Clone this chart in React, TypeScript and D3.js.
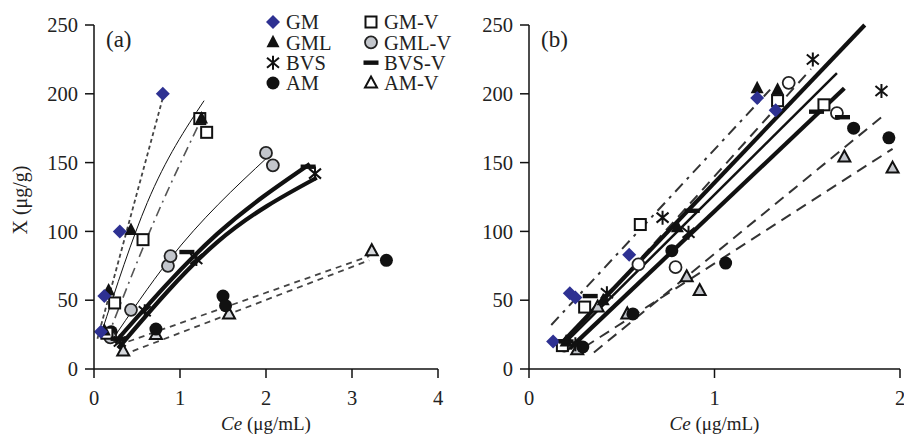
import React from "react";
import * as d3 from "d3";

const yTicks = [0, 50, 100, 150, 200, 250];
const xTicksA = [0, 1, 2, 3, 4];
const xTicksB = [0, 1, 2];

// panel (a) points, [Ce, X]
const aGM = [[0.08, 27], [0.12, 53], [0.30, 100], [0.80, 200]];
const aGML = [[0.12, 28], [0.17, 57], [0.43, 101], [1.25, 182]];
const aGMV = [[0.15, 26], [0.24, 48], [0.57, 94], [1.23, 182], [1.31, 172]];
const aGMLV = [[0.19, 23], [0.43, 43], [0.86, 75], [0.89, 82], [2.0, 157], [2.08, 148]];
const aBVS = [[0.30, 20], [0.59, 42], [1.19, 80], [2.57, 142]];
const aBVSV = [[0.28, 22], [1.08, 85], [2.49, 147]];
const aAM = [[0.20, 27], [0.72, 29], [1.50, 53], [1.53, 46], [3.40, 79]];
const aAMV = [[0.34, 13], [0.72, 25], [1.57, 40], [3.23, 86]];

// panel (a) fitted lines
const aFitGM = [[0.04, 22], [0.80, 197]];
const aFitGML = [[0.08, 25], [0.62, 121], [1.28, 195]];
const aFitGMV = [[0.15, 22], [0.69, 106], [1.22, 178]];
const aFitGMLV = [[0.20, 20], [0.87, 79], [2.02, 154]];
const aFitBVS = [[0.28, 15], [1.43, 92], [2.59, 139]];
const aFitBVSV = [[0.24, 19], [1.43, 98], [2.51, 149]];
const aFitAM = [[0.40, 20], [3.20, 82]];
const aFitAMV = [[0.45, 13], [3.20, 79]];

// panel (b) points
const bGM = [[0.13, 20], [0.22, 55], [0.25, 52], [0.54, 83], [1.23, 197], [1.33, 188]];
const bGML = [[0.20, 20], [0.40, 50], [0.80, 103], [1.23, 204], [1.34, 203]];
const bGMV = [[0.18, 17], [0.30, 45], [0.60, 105], [1.34, 195], [1.59, 192]];
const bGMLV = [[0.19, 17], [0.59, 76], [0.79, 74], [1.40, 208], [1.66, 186]];
const bBVS = [[0.25, 18], [0.42, 55], [0.72, 110], [0.86, 99], [1.53, 225], [1.90, 202]];
const bBVSV = [[0.20, 20], [0.33, 53], [0.88, 115], [1.55, 187], [1.69, 183]];
const bAM = [[0.29, 16], [0.56, 40], [0.77, 86], [1.06, 77], [1.75, 175], [1.94, 168]];
const bAMV = [[0.26, 14], [0.37, 45], [0.53, 40], [0.85, 67], [0.92, 57], [1.70, 154], [1.96, 146]];

// panel (b) fitted lines
const bFit1 = [[0.12, 32], [1.30, 203]];
const bFit2 = [[0.22, 23], [1.52, 218]];
const bFit3 = [[0.35, 12], [1.90, 183]];
const bFit4 = [[0.30, 16], [1.96, 160]];
const bFit5 = [[0.17, 18], [1.81, 250]];
const bFit6 = [[0.18, 17], [1.66, 215]];
const bFit7 = [[0.22, 15], [1.70, 204]];

const legendNames = ["GM", "GML", "BVS", "AM", "GM-V", "GML-V", "BVS-V", "AM-V"];
const legendKinds = ["diamond", "triFill", "star", "dot", "square", "circle", "bar", "triOpen"];

const font = "'Liberation Serif', 'Times New Roman', serif";
const BLUE = "#2e3192";
const GREY = "#c3c6cc";

const lineStyles = {
  dotted: { stroke: "#444", width: 1.8, dash: "4,3" },
  thin: { stroke: "#111", width: 1, dash: null },
  dashdot: { stroke: "#555", width: 1.6, dash: "10,5,2,5" },
  thick: { stroke: "#111", width: 4.2, dash: null },
  medium: { stroke: "#111", width: 2.5, dash: null },
  dashed: { stroke: "#444", width: 1.8, dash: "6,5" },
  longdash: { stroke: "#333", width: 2, dash: "11,7" },
  longdashdot: { stroke: "#333", width: 2, dash: "11,6,3,6" },
};

function Mark({ kind, x, y, fill }: any) {
  const t = `translate(${x},${y})`;
  switch (kind) {
    case "diamond":
      return <path transform={t} d="M0,-7L7,0L0,7L-7,0Z" fill={BLUE} />;
    case "triFill":
      return <path transform={t} d="M0,-7.5L6.5,5L-6.5,5Z" fill="#111" />;
    case "triOpen":
      return <path transform={t} d="M0,-6.5L6,4.5L-6,4.5Z" fill={fill || GREY} stroke="#111" strokeWidth={2} />;
    case "square":
      return <rect transform={t} x={-5.5} y={-5.5} width={11} height={11} fill="#fff" stroke="#111" strokeWidth={2} />;
    case "circle":
      return <circle cx={x} cy={y} r={6} fill={fill || GREY} stroke="#222" strokeWidth={1.8} />;
    case "dot":
      return <circle cx={x} cy={y} r={6.5} fill="#111" />;
    case "bar":
      return <rect transform={t} x={-7.5} y={-2.2} width={15} height={4.4} fill="#111" />;
    case "star":
      return <path transform={t} d="M0,-7L0,7M-6,-5L6,5M-6,5L6,-5" stroke="#111" strokeWidth={2} fill="none" />;
    default:
      return null;
  }
}

function Panel({ xScale, xTicks, label, series, fits, yTitle }: any) {
  const y = d3.scaleLinear().domain([0, 250]).range([369, 25]);
  const x0 = xScale(0);
  const line = d3
    .line<number[]>()
    .x((d) => xScale(d[0]))
    .y((d) => y(d[1]))
    .curve(d3.curveMonotoneX);
  const [r0, r1] = xScale.range();
  return (
    <g fontFamily={font} fill="#222">
      {fits.map((f: any, i: number) => {
        const s = lineStyles[f.style];
        return (
          <path key={i} d={line(f.pts) || ""} fill="none" stroke={s.stroke} strokeWidth={s.width}
            strokeDasharray={s.dash || undefined} />
        );
      })}
      {series.map((s: any, i: number) =>
        s.pts.map((p: number[], j: number) => (
          <Mark key={i + "-" + j} kind={s.kind} x={xScale(p[0])} y={y(p[1])} fill={s.fill} />
        ))
      )}
      <line x1={x0} x2={x0} y1={y(250)} y2={y(0)} stroke="#111" strokeWidth={1.5} />
      <line x1={r0} x2={r1} y1={y(0)} y2={y(0)} stroke="#111" strokeWidth={1.5} />
      {yTicks.map((t) => (
        <g key={"y" + t}>
          <line x1={x0 - 9} x2={x0} y1={y(t)} y2={y(t)} stroke="#111" strokeWidth={1.5} />
          <text x={x0 - 16} y={y(t)} dy="0.35em" textAnchor="end" fontSize={20.5}>{t}</text>
        </g>
      ))}
      {xTicks.map((t: number) => (
        <g key={"x" + t}>
          <line x1={xScale(t)} x2={xScale(t)} y1={y(0)} y2={y(0) + 9} stroke="#111" strokeWidth={1.5} />
          <text x={xScale(t)} y={405} textAnchor="middle" fontSize={20.5}>{t}</text>
        </g>
      ))}
      <text x={x0 + 12} y={47} fontSize={23}>{label}</text>
      <text x={(r0 + r1) / 2} y={430} textAnchor="middle" fontSize={19}>
        <tspan fontStyle="italic">Ce</tspan> (μg/mL)
      </text>
      {yTitle && (
        <text transform="translate(27,200) rotate(-90)" textAnchor="middle" fontSize={20}>X (μg/g)</text>
      )}
    </g>
  );
}

export default function App() {
  const xA = d3.scaleLinear().domain([0, 4]).range([94, 438]);
  const xB = d3.scaleLinear().domain([0, 2]).range([529, 900]);

  const seriesA = [
    { pts: aAMV, kind: "triOpen", fill: "#d6d8dc" },
    { pts: aAM, kind: "dot" },
    { pts: aGMLV, kind: "circle" },
    { pts: aGMV, kind: "square" },
    { pts: aGML, kind: "triFill" },
    { pts: aGM, kind: "diamond" },
    { pts: aBVSV, kind: "bar" },
    { pts: aBVS, kind: "star" },
  ];
  const fitsA = [
    { pts: aFitAM, style: "dashed" },
    { pts: aFitAMV, style: "dashed" },
    { pts: aFitGM, style: "dotted" },
    { pts: aFitGMV, style: "dashdot" },
    { pts: aFitGML, style: "thin" },
    { pts: aFitGMLV, style: "thin" },
    { pts: aFitBVS, style: "thick" },
    { pts: aFitBVSV, style: "thick" },
  ];
  const seriesB = [
    { pts: bAMV, kind: "triOpen" },
    { pts: bAM, kind: "dot" },
    { pts: bGMLV, kind: "circle", fill: "#fff" },
    { pts: bGMV, kind: "square" },
    { pts: bGML, kind: "triFill" },
    { pts: bGM, kind: "diamond" },
    { pts: bBVSV, kind: "bar" },
    { pts: bBVS, kind: "star" },
  ];
  const fitsB = [
    { pts: bFit1, style: "longdashdot" },
    { pts: bFit2, style: "longdash" },
    { pts: bFit3, style: "longdash" },
    { pts: bFit4, style: "longdash" },
    { pts: bFit5, style: "thick" },
    { pts: bFit6, style: "medium" },
    { pts: bFit7, style: "thick" },
  ];

  const rowY = d3.scaleLinear().domain([0, 3]).range([22, 83]);

  return (
    <svg width={904} height={438} style={{ position: "absolute", left: 0, top: 0, background: "#fff" }}>
      <Panel xScale={xA} xTicks={xTicksA} label="(a)" series={seriesA} fits={fitsA} yTitle />
      <Panel xScale={xB} xTicks={xTicksB} label="(b)" series={seriesB} fits={fitsB} />
      <g fontFamily={font} fill="#222" fontSize={20.5}>
        {legendNames.map((name, i) => {
          const col = Math.floor(i / 4);
          const row = i % 4;
          const mx = col === 0 ? 273 : 371;
          const yy = rowY(row);
          return (
            <g key={name}>
              <Mark kind={legendKinds[i]} x={mx} y={yy} fill={legendKinds[i] === "triOpen" ? "#fff" : undefined} />
              <text x={mx + 13} y={yy} dy="0.36em">{name}</text>
            </g>
          );
        })}
      </g>
    </svg>
  );
}
